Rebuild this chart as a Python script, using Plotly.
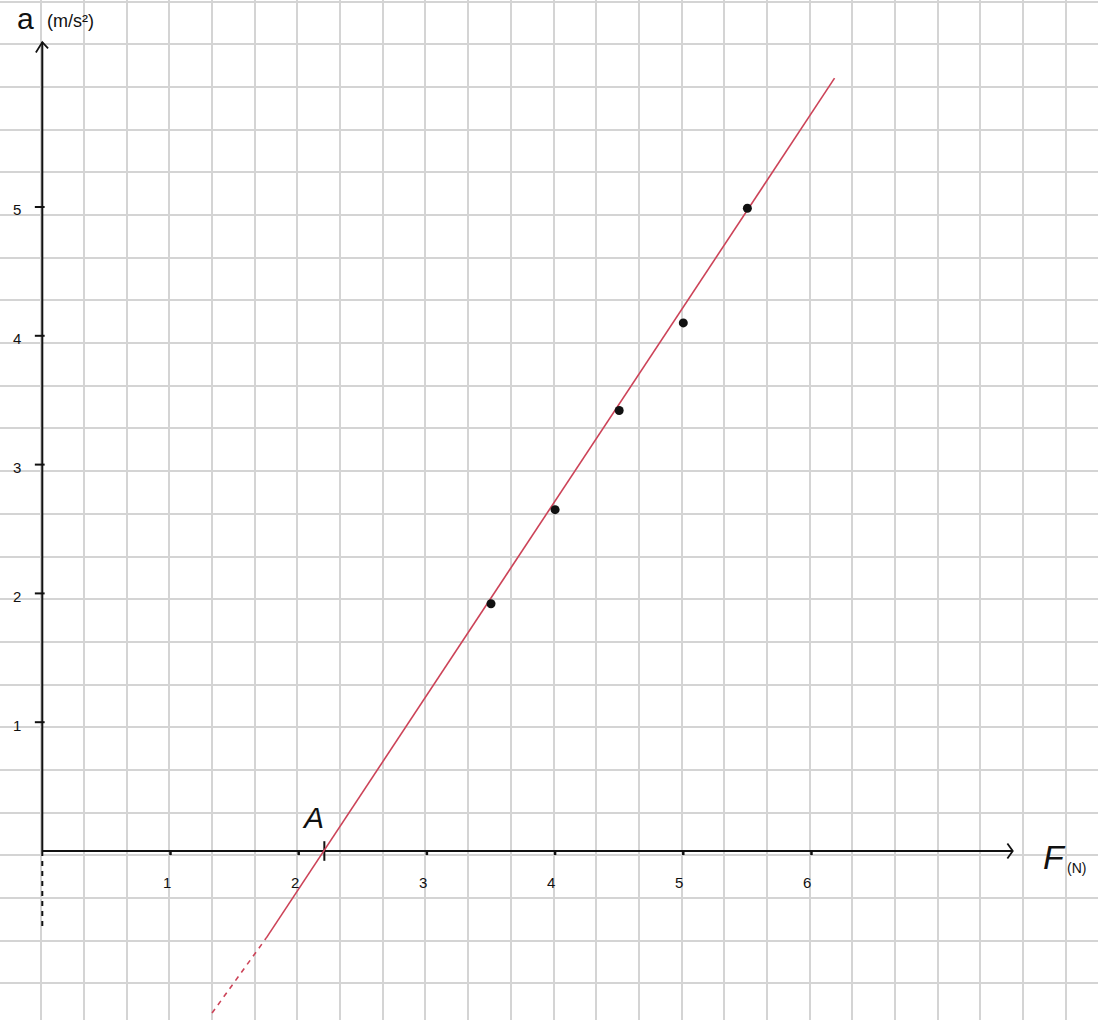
import plotly.graph_objects as go

# ---- data ----
F_values = [3.5, 4.0, 4.5, 5.0, 5.5]          # force F (N)
a_values = [1.92, 2.65, 3.42, 4.10, 4.99]     # acceleration a (m/s^2)

fit_solid_F = [1.745, 6.18]
fit_solid_a = [-0.678, 6.00]
fit_dash_F = [1.324, 1.745]
fit_dash_a = [-1.258, -0.678]

x_ticks = [1, 2, 3, 4, 5, 6]
x_tick_labels = ["1", "2", "3", "4", "5", "6"]
y_ticks = [1, 2, 3, 4, 5]
y_tick_labels = ["1", "2", "3", "4", "5"]

point_A_F = 2.20
x_axis_end = 7.57
y_axis_end = 6.28
y_axis_dash_end = -0.61

# ---- figure ----
RED = "#cc4358"
INK = "#111111"
fig = go.Figure()

# axes (drawn by hand)
fig.add_trace(go.Scatter(x=[0, x_axis_end], y=[0, 0], mode="lines",
                         line=dict(color=INK, width=2), hoverinfo="skip"))
fig.add_trace(go.Scatter(x=[0, 0], y=[0, y_axis_end], mode="lines",
                         line=dict(color=INK, width=2), hoverinfo="skip"))
fig.add_trace(go.Scatter(x=[0, 0], y=[0, y_axis_dash_end], mode="lines",
                         line=dict(color=INK, width=2, dash="5px,5px"), hoverinfo="skip"))
# arrow heads (open chevrons)
ax_dx, ax_dy = 0.042, 0.058
fig.add_trace(go.Scatter(x=[x_axis_end - ax_dx, x_axis_end, x_axis_end - ax_dx],
                         y=[ax_dy, 0, -ax_dy], mode="lines",
                         line=dict(color=INK, width=1.8), hoverinfo="skip"))
ay_dx, ay_dy = 0.05, 0.08
fig.add_trace(go.Scatter(x=[-ay_dx, 0, ay_dx * 0.9],
                         y=[y_axis_end - ay_dy, y_axis_end, y_axis_end - ay_dy * 0.6],
                         mode="lines", line=dict(color=INK, width=1.8), hoverinfo="skip"))

# tick marks
fig.add_trace(go.Scatter(x=x_ticks, y=[-0.015] * len(x_ticks), mode="markers",
                         marker=dict(symbol="line-ns", size=3, line=dict(color=INK, width=2.5)),
                         hoverinfo="skip"))
fig.add_trace(go.Scatter(x=[-0.02] * len(y_ticks), y=y_ticks, mode="markers",
                         marker=dict(symbol="line-ew", size=7, line=dict(color=INK, width=2)),
                         hoverinfo="skip"))
fig.add_trace(go.Scatter(x=[point_A_F], y=[0], mode="markers",
                         marker=dict(symbol="line-ns", size=14, line=dict(color=INK, width=2)),
                         hoverinfo="skip"))

# fitted line
fig.add_trace(go.Scatter(x=fit_solid_F, y=fit_solid_a, mode="lines",
                         line=dict(color=RED, width=1.6), hoverinfo="skip"))
fig.add_trace(go.Scatter(x=fit_dash_F, y=fit_dash_a, mode="lines",
                         line=dict(color=RED, width=1.6, dash="5px,5px"), hoverinfo="skip"))

# measured points
fig.add_trace(go.Scatter(x=F_values, y=a_values, mode="markers",
                         marker=dict(color=INK, size=9, line=dict(width=0))))

annotations = []
FONT = "Liberation Sans"
for v, t in zip(x_ticks, x_tick_labels):
    annotations.append(dict(x=v, y=0, text=t, showarrow=False, xshift=-4, yshift=-31,
                            font=dict(family=FONT, size=15, color=INK)))
for v, t in zip(y_ticks, y_tick_labels):
    annotations.append(dict(x=0, y=v, text=t, showarrow=False, xshift=-25, yshift=-3,
                            font=dict(family=FONT, size=15, color=INK)))
annotations.append(dict(x=point_A_F, y=0, text="A", showarrow=False, xshift=-11, yshift=34,
                        font=dict(family=FONT, size=30, color=INK, style="italic")))
annotations.append(dict(x=0, y=y_axis_end, text="a", showarrow=False, xshift=-17, yshift=24,
                        font=dict(family=FONT, size=30, color=INK)))
annotations.append(dict(x=0, y=y_axis_end, text="(m/s²)", showarrow=False, xshift=28, yshift=21,
                        font=dict(family=FONT, size=18, color=INK)))
annotations.append(dict(x=x_axis_end, y=0, text="F", showarrow=False, xshift=42, yshift=-6,
                        font=dict(family=FONT, size=34, color=INK, style="italic")))
annotations.append(dict(x=x_axis_end, y=0, text="(N)", showarrow=False, xshift=64, yshift=-17,
                        font=dict(family=FONT, size=14, color=INK)))

GRID = "#d4d4d4"
fig.update_layout(
    width=1098, height=1020,
    margin=dict(l=0, r=0, t=0, b=0),
    paper_bgcolor="white", plot_bgcolor="white",
    showlegend=False,
    annotations=annotations,
    xaxis=dict(range=[-0.330, 8.235], tick0=-0.008, dtick=0.333, showgrid=True,
               gridcolor=GRID, gridwidth=2, zeroline=False, showline=False,
               showticklabels=False, ticks=""),
    yaxis=dict(range=[-1.312, 6.607], tick0=-0.0326, dtick=0.3313, showgrid=True,
               gridcolor=GRID, gridwidth=2, zeroline=False, showline=False,
               showticklabels=False, ticks=""),
)

fig.write_html("out.html", config={"displayModeBar": False},
               post_script="document.body.style.margin='0';")
